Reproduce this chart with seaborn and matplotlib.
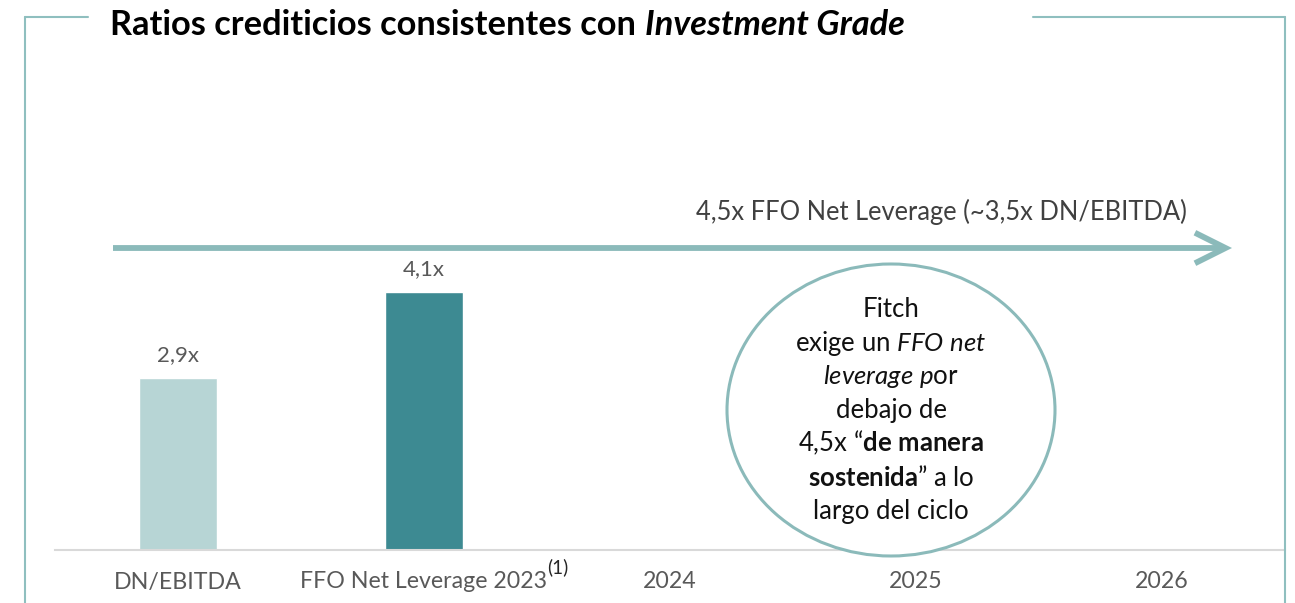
import numpy as np
import pandas as pd
import matplotlib
matplotlib.use("Agg")
import matplotlib.pyplot as plt
import seaborn as sns
from matplotlib.patches import Ellipse
from matplotlib.lines import Line2D

# ---- data ----
categories = ["DN/EBITDA", "FFO Net Leverage 2023", "2024", "2025", "2026"]
values = [2.9, 4.1, np.nan, np.nan, np.nan]
value_labels = ["2,9x", "4,1x", "", "", ""]
bar_colors = ["#b7d5d5", "#3d8a92", "#ffffff", "#ffffff", "#ffffff"]
title_regular = "Ratios crediticios consistentes con"
title_italic = "Investment Grade"
arrow_label = "4,5x FFO Net Leverage (~3,5x DN/EBITDA)"
footnote_mark = "(1)"
ellipse_lines = [
    "Fitch",
    r"exige un $\mathit{FFO\ net}$",
    r"$\mathit{leverage\ p}$or",
    "debajo de",
    r"4,5x “$\mathbf{de\ manera}$",
    r"$\mathbf{sostenida}$” a lo",
    "largo del ciclo",
]

sns.set_theme(style="white")
plt.rcParams["font.family"] = ["Lato", "DejaVu Sans"]
plt.rcParams["mathtext.fontset"] = "custom"
plt.rcParams["mathtext.rm"] = "Lato"
plt.rcParams["mathtext.it"] = "Lato:italic"
plt.rcParams["mathtext.bf"] = "Lato:bold"

W, H = 1295, 603
fig = plt.figure(figsize=(W / 100, H / 100), dpi=100)
fig.patch.set_facecolor("white")

def fx(px):
    return px / W

def fy(py):
    return 1 - py / H

ax_left, ax_right, ax_base, ax_top = 55, 1285, 550, 60
ax = fig.add_axes([fx(ax_left), fy(ax_base), (ax_right - ax_left) / W, (ax_base - ax_top) / H])
ax.set_facecolor("white")

df = pd.DataFrame({"cat": categories, "val": values})
sns.barplot(data=df, x="cat", y="val", hue="cat", palette=bar_colors,
            width=0.317, legend=False, ax=ax, saturation=1)

# y scale: 71.7 px per unit, bottom at 0.5
ppu = 71.7
ymin = 0.5
ax.set_ylim(ymin, ymin + (ax_base - ax_top) / ppu)
ax.set_xlim(-0.5, 4.5)

def dx(px):
    return (px - ax_left) / ((ax_right - ax_left) / 5) - 0.5

def dy(py):
    return ymin + (ax_base - py) / ppu

for s in ["top", "right", "left"]:
    ax.spines[s].set_visible(False)
ax.spines["bottom"].set_color("#d9d9d9")
ax.spines["bottom"].set_linewidth(1.5)
ax.set_xlabel("")
ax.set_ylabel("")
ax.set_yticks([])
ax.tick_params(axis="x", length=0, colors="#595959", labelsize=14)

# value labels
val_texts = []
for i, (v, lab) in enumerate(zip(values, value_labels)):
    if lab:
        t = ax.annotate(lab, (i, v), xytext=(0, 9), textcoords="offset points",
                        ha="center", va="bottom", color="#595959", fontsize=14)
        val_texts.append(t)

# arrow
arrow_level = dy(248)
ax.annotate("", xy=(dx(1232), arrow_level), xytext=(dx(113), arrow_level),
            arrowprops=dict(arrowstyle="->,head_length=1.1,head_width=0.55",
                            color="#8bbaba", lw=4.2, mutation_scale=20,
                            shrinkA=0, shrinkB=0, joinstyle="miter", capstyle="butt"),
            annotation_clip=False)
arrow_txt = ax.text(dx(1187), dy(212), arrow_label, ha="right", va="center",
                    color="#404040", fontsize=16)

# ellipse
ell = Ellipse((dx(891), dy(410)), width=328 / 246, height=292 / ppu,
              facecolor="white", edgecolor="#8bbaba", lw=2.2, clip_on=False, zorder=3)
ax.add_patch(ell)

ell_texts = []
base0, step = 317, 33.7
for k, line in enumerate(ellipse_lines):
    t = fig.text(fx(891), fy(base0 + k * step), line, ha="center", va="baseline",
                 color="#111111", fontsize=16, zorder=5)
    ell_texts.append(t)

# title
t1 = fig.text(fx(110), fy(25), title_regular, ha="left", va="center",
              fontsize=20, fontweight="bold", color="#000000")
t2 = fig.text(fx(645), fy(25), title_italic, ha="left", va="center",
              fontsize=20, fontweight="bold", fontstyle="italic", color="#000000")

# footnote mark
fn = fig.text(fx(558), fy(567), footnote_mark, ha="center", va="center",
              fontsize=13.5, color="#262626")

# frame lines
frame_c = "#8fbfbf"
for (x0, y0, x1, y1) in [(25, 17, 25, H), (25, 17, 88, 17), (1033, 17, 1285, 17), (1285, 17, 1285, H)]:
    fig.add_artist(Line2D([fx(x0), fx(x1)], [fy(y0), fy(y1)], color=frame_c, lw=1.5,
                          transform=fig.transFigure))

# ---- fit font sizes to target widths ----
fig.canvas.draw()
r = fig.canvas.get_renderer()

def width(t):
    return t.get_window_extent(r).width

# title
s = t1.get_fontsize() * (636 - 110) / width(t1)
t1.set_fontsize(s)
t2.set_fontsize(s)
# arrow label
arrow_txt.set_fontsize(arrow_txt.get_fontsize() * 492 / width(arrow_txt))
# value labels
vs = val_texts[1].get_fontsize() * 42 / width(val_texts[1])
for t in val_texts:
    t.set_fontsize(vs)
# ellipse text
es = ell_texts[6].get_fontsize() * 156 / width(ell_texts[6])
for t in ell_texts:
    t.set_fontsize(es)
# tick labels
tl = ax.get_xticklabels()
ts = 14 * 127 / width(tl[0])
ax.tick_params(axis="x", labelsize=ts)
fig.canvas.draw()
r = fig.canvas.get_renderer()
h = ax.get_xticklabels()[0].get_window_extent(r).height
pad_px = 582 - h / 2 - ax_base
ax.tick_params(axis="x", pad=pad_px * 0.72)

fig.savefig("out.png", dpi=100, facecolor="white")
